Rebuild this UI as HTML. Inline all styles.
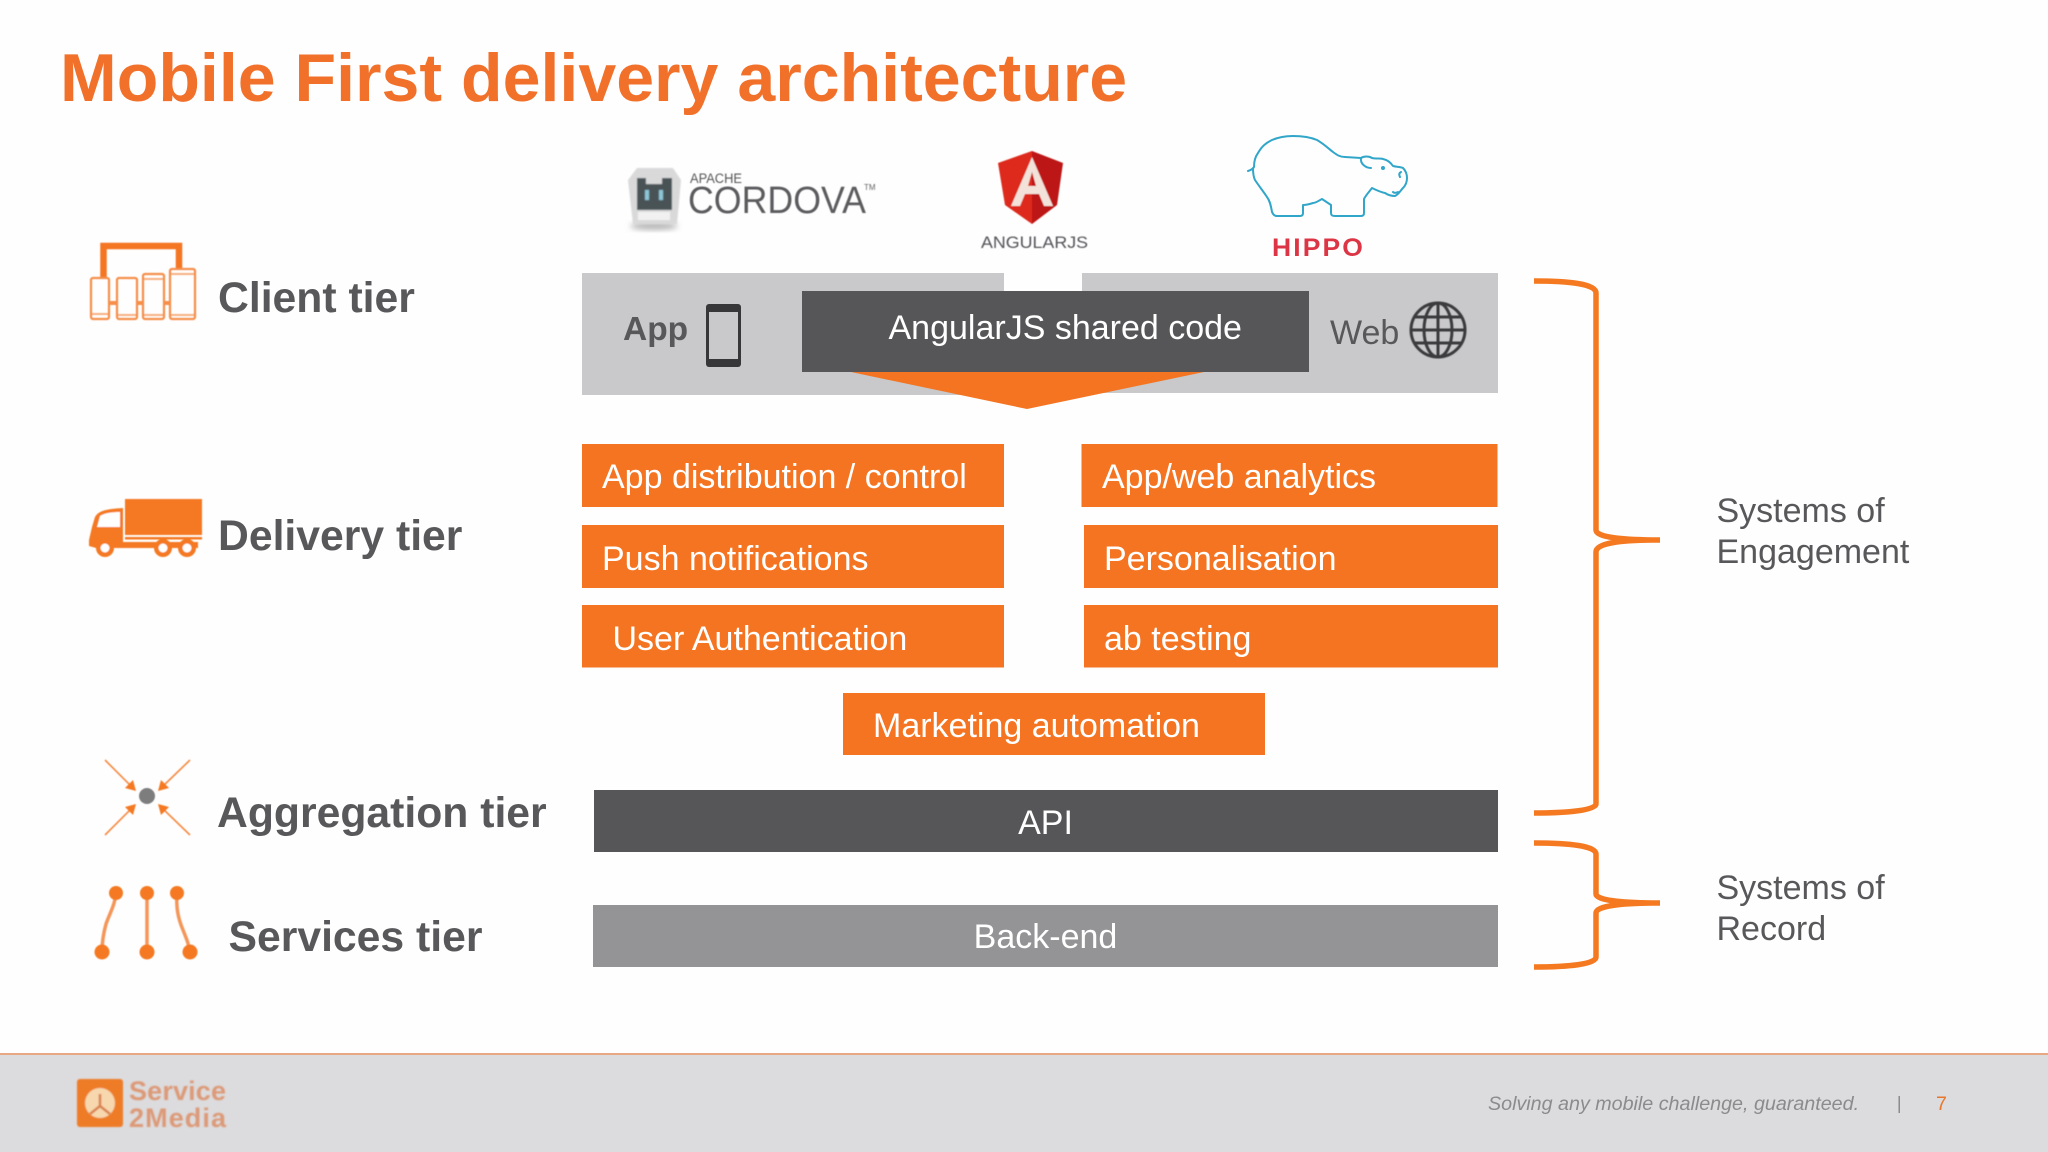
<!DOCTYPE html>
<html lang="en">
<head>
<meta charset="utf-8">
<title>Mobile First delivery architecture</title>
<style>
html,body{margin:0;padding:0;width:2048px;height:1152px;overflow:hidden;background:#fff}
svg{display:block}
text{font-family:"Liberation Sans",Arial,sans-serif}
.b{font-weight:700;font-size:42.7px;fill:#58575a}
.w{font-size:34px;fill:#fff}
.g{font-size:34px;fill:#58575a}
</style>
</head>
<body>
<svg width="2048" height="1152" viewBox="0 0 2048 1152" xmlns="http://www.w3.org/2000/svg">
<defs>
<filter id="s" x="-10%" y="-10%" width="120%" height="120%"><feGaussianBlur stdDeviation="0.5"/></filter>
<filter id="m" x="-10%" y="-10%" width="120%" height="120%"><feGaussianBlur stdDeviation="0.9"/></filter>
<filter id="sh" x="-30%" y="-30%" width="160%" height="160%"><feGaussianBlur stdDeviation="3"/></filter>
</defs>
<rect width="2048" height="1152" fill="#fefefe"/>

<!-- Title -->
<text x="60" y="101" font-size="68.1" font-weight="700" fill="#f1702a">Mobile First delivery architecture</text>

<!-- Client tier icon -->
<g fill="none" stroke="#f58f4c" stroke-width="2.2" filter="url(#s)">
<path d="M103.500 278V246H179V268" stroke="#f47421" stroke-width="6.500"/>
<rect x="91" y="278" width="18" height="41" rx="2"/>
<rect x="117" y="278" width="20" height="41" rx="2"/>
<rect x="143" y="274" width="21" height="45" rx="2"/>
<rect x="170" y="269" width="25" height="50" rx="2"/>
<path d="M91 314h18M117 315h20M143 315h21M170 315h25M143 279h21M170 274h25" stroke-width="2" opacity=".7"/>
<path d="M109 303h8M137 303h6M164 303h6" stroke-width="4"/>
</g>
<text class="b" x="218" y="312">Client tier</text>

<!-- Delivery tier icon -->
<g fill="#f47922" filter="url(#s)">
<rect x="125" y="499" width="77" height="36"/>
<rect x="125" y="537" width="77" height="2.500"/>
<path d="M123 508C108 509 99 510 95 517L92 527 89 540V546L96 548H123V508Z"/>
<rect x="120" y="542" width="78" height="6"/>
<circle cx="105" cy="548" r="9"/><circle cx="163" cy="548" r="9"/><circle cx="187" cy="548" r="9"/>
<circle cx="105" cy="548" r="4.500" fill="#fff"/><circle cx="163" cy="548" r="4.500" fill="#fff"/><circle cx="187" cy="548" r="4.500" fill="#fff"/>
<path d="M100 516C104 513 112 512 120 512V527H97Z" fill="#fff"/>
</g>
<text class="b" x="218" y="550">Delivery tier</text>

<!-- Aggregation icon -->
<g filter="url(#s)">
<circle cx="147" cy="796" r="8" fill="#7d7d7e"/>
<g stroke="#f58a42" stroke-width="1.600" fill="none">
<path d="M105 760L133 788M190 760L161 788M105 835L133 807M190 835L161 807"/>
</g>
<g fill="#f47922">
<path d="M136 791L125 788 133 780Z"/><path d="M158 791L169 788 161 780Z"/>
<path d="M136 804L125 807 133 815Z"/><path d="M158 804L169 807 161 815Z"/>
</g>
</g>
<text class="b" x="217" y="827">Aggregation tier</text>

<!-- Services icon -->
<g filter="url(#s)">
<g stroke="#f4965a" stroke-width="3.500" fill="none">
<path d="M116 893C115 905 109 915 106 924 103 935 102 945 102 952"/>
<path d="M147 893V952"/>
<path d="M177 893C176 908 178 918 183 930 187 940 189 945 190 952"/>
</g>
<g fill="#f47922">
<circle cx="116" cy="893" r="7"/><circle cx="147" cy="893" r="7"/><circle cx="177" cy="893" r="7"/>
<circle cx="102" cy="952" r="7.500"/><circle cx="147" cy="952" r="7.500"/><circle cx="190" cy="952" r="7.500"/>
</g>
</g>
<text class="b" x="228.500" y="951">Services tier</text>

<!-- Cordova logo -->
<g filter="url(#m)">
<ellipse cx="654" cy="226" rx="24" ry="4" fill="#b5b5b5" filter="url(#sh)"/>
<path d="M637 168H673L681 180 677 224H633L628 180Z" fill="#d9d9da"/>
<path d="M637 178H646V184H662V178H672V210H637Z" fill="#4a5257"/>
<rect x="645" y="190" width="4" height="10" fill="#8fc6d8"/><rect x="659" y="190" width="4" height="10" fill="#8fc6d8"/>
<rect x="638" y="212" width="32" height="8" fill="#f1f1f1"/>
</g>
<text x="690" y="183" font-size="13.500" fill="#555" textLength="52" lengthAdjust="spacingAndGlyphs" filter="url(#s)">APACHE</text>
<text x="688" y="213" font-size="38" fill="#5c5c5e" textLength="178" lengthAdjust="spacingAndGlyphs" filter="url(#s)">CORDOVA</text>
<text x="864" y="190" font-size="8" fill="#666" filter="url(#s)">TM</text>

<!-- Angular logo -->
<g filter="url(#s)">
<path d="M1032 151L998 163 1005 205 1032 224Z" fill="#dd2a1c"/>
<path d="M1032 151L1063 163 1057 205 1032 224Z" fill="#bc1414"/>
<path d="M1032 157L1011 206H1020L1025 194H1039L1044 206H1053ZM1028 186L1032 172 1036 186Z" fill="#f2e2da" fill-rule="evenodd"/>
</g>
<text x="981" y="248" font-size="17" fill="#55555a" textLength="107" lengthAdjust="spacingAndGlyphs" filter="url(#s)">ANGULARJS</text>

<!-- Hippo logo -->
<g fill="none" stroke="#31a6c9" stroke-width="2" stroke-linejoin="round" stroke-linecap="round">
<path d="M1248 171C1251 170 1253 169 1254 167 1254 161 1255 157 1258 153 1262 146 1266 143 1272 140 1279 137 1286 136 1293 136 1302 136 1310 137 1317 140 1324 144 1329 149 1333 152 1337 155 1340 157 1345 157L1361 158C1364 156 1369 156 1372 158 1376 159 1380 158 1383 159 1388 160 1391 163 1393 166 1397 167 1401 167 1403 168 1406 171 1407 175 1407 178 1407 182 1406 185 1403 188 1400 191 1399 194 1395 196 1392 196 1388 195 1385 193 1380 192 1376 190 1372 188 1369 192 1366 195 1364 199V213C1364 215 1363 216 1361 216H1335C1332 216 1331 215 1331 213V205L1322 199C1318 201 1316 203 1313 203 1310 204 1306 205 1303 205V213C1303 215 1302 216 1300 216H1277C1274 216 1273 214 1272 212 1271 206 1270 201 1267 197 1263 191 1259 186 1255 180 1253 176 1253 172 1253 168"/>
<path d="M1361 158C1360 164 1366 168 1371 168"/>
<path d="M1401 172C1399 173 1399 175 1400 177"/>
<path d="M1393 192C1394 193 1396 193 1398 192"/>
</g>
<circle cx="1383" cy="168" r="2" fill="#31a6c9"/>
<text x="1272" y="256" font-size="25" font-weight="700" fill="#dc3545" textLength="93" lengthAdjust="spacingAndGlyphs" letter-spacing="2">HIPPO</text>

<!-- Client band -->
<rect x="582" y="273" width="422" height="122" fill="#c9c8ca"/>
<rect x="1082" y="273" width="416" height="120" fill="#c9c8ca"/>
<rect x="1004" y="291" width="78" height="102" fill="#c9c8ca"/>
<rect x="802" y="291" width="507" height="81" fill="#565557"/>
<path d="M851 372H1204L1027 409Z" fill="#f47421"/>
<text x="623" y="340" font-size="33.500" font-weight="700" fill="#58575a">App</text>
<rect x="706" y="304" width="35" height="63" rx="3" fill="#37373a"/>
<rect x="709" y="312" width="29" height="47" fill="#c9c8ca"/>
<text class="w" x="888.500" y="339">AngularJS shared code</text>
<text class="g" x="1330" y="344">Web</text>
<g fill="none" stroke="#3a3a3d" stroke-width="3" filter="url(#s)">
<circle cx="1438" cy="330" r="27"/>
<ellipse cx="1438" cy="330" rx="14" ry="27"/>
<path d="M1438 302V358M1411 330H1465M1415 317H1461M1415 343H1461"/>
</g>

<!-- Delivery boxes -->
<g fill="#f47421">
<rect x="582" y="444" width="422" height="63"/>
<rect x="1081.500" y="444" width="416" height="63"/>
<rect x="582" y="525" width="422" height="63"/>
<rect x="1084" y="525" width="414" height="63"/>
<rect x="582" y="605" width="422" height="62.500"/>
<rect x="1084" y="605" width="414" height="62.500"/>
<rect x="843" y="693" width="422" height="62"/>
</g>
<text class="w" x="602" y="488">App distribution / control</text>
<text class="w" x="1102" y="488">App/web analytics</text>
<text class="w" x="602" y="570">Push notifications</text>
<text class="w" x="1104" y="570">Personalisation</text>
<text class="w" x="612.500" y="650">User Authentication</text>
<text class="w" x="1104" y="650">ab testing</text>
<text class="w" x="873" y="737">Marketing automation</text>

<!-- API / Backend -->
<rect x="594" y="790" width="904" height="62" fill="#565557"/>
<rect x="593" y="905" width="905" height="62" fill="#949396"/>
<text class="w" x="1045.500" y="834" text-anchor="middle">API</text>
<text class="w" x="1045.500" y="948" text-anchor="middle">Back-end</text>

<!-- Braces -->
<g fill="none" stroke="#f47921" stroke-width="5.500" stroke-linecap="butt">
<path d="M1534 281C1570 281 1596 284 1596 293V530C1596 537 1620 540 1660 540 1620 540 1596 543 1596 552V804C1596 810 1570 813 1534 813"/>
<path d="M1534 843C1570 843 1596 846 1596 854V894C1596 900 1620 903 1660 903 1620 903 1596 906 1596 913V957C1596 964 1570 967 1534 967"/>
</g>

<!-- Right labels -->
<text class="g" x="1716.500" y="522">Systems of</text>
<text class="g" x="1716.500" y="563">Engagement</text>
<text class="g" x="1716.500" y="899">Systems of</text>
<text class="g" x="1716.500" y="940">Record</text>

<!-- Footer -->
<rect x="0" y="1054" width="2048" height="98" fill="#dcdbdd"/>
<rect x="0" y="1053" width="2048" height="2" fill="#e8a884"/>
<g filter="url(#m)">
<rect x="77" y="1079" width="46" height="48" rx="3" fill="#ee7b25"/>
<circle cx="100" cy="1103" r="15" fill="#f7d7ae"/>
<path d="M100 1094V1106M100 1106L90 1114M100 1106L110 1114" stroke="#d9804e" stroke-width="2.500" fill="none"/>
<text x="129" y="1100" font-size="27" font-weight="700" fill="#dc9a78" textLength="97">Service</text>
<text x="129" y="1127" font-size="27" font-weight="700" fill="#dc9a78" textLength="97">2Media</text>
</g>
<text x="1488" y="1110" font-size="19.700" font-style="italic" fill="#8b8a8d">Solving any mobile challenge, guaranteed.</text>
<rect x="1898.500" y="1096" width="1.500" height="17" fill="#8b8a8d"/>
<text x="1936" y="1110" font-size="19.600" fill="#e8772e">7</text>
</svg>
</body>
</html>
